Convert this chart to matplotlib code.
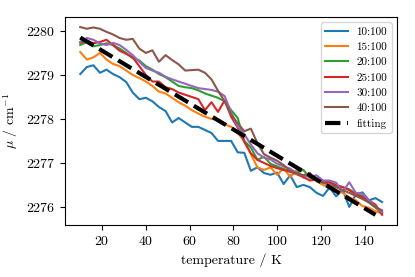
import matplotlib
matplotlib.use('Agg')
import matplotlib.pyplot as plt

plt.rcParams['font.family'] = 'serif'
plt.rcParams['font.serif'] = ['cmr10']
plt.rcParams['mathtext.fontset'] = 'cm'
plt.rcParams['axes.unicode_minus'] = False
plt.rcParams['axes.formatter.use_mathtext'] = True

# temperatura (K)
temperature = [10, 13, 16, 19, 22, 25, 28, 31, 34, 37, 40, 43, 46, 49, 52, 55,
               58, 61, 64, 67, 70, 73, 76, 79, 82, 85, 88, 91, 94, 97, 100, 103,
               106, 109, 112, 115, 118, 121, 124, 127, 130, 133, 136, 139, 142,
               145, 148]

mu_10 = [2279.02, 2279.18, 2279.22, 2279.05, 2279.12, 2279.02, 2278.95, 2278.84,
         2278.60, 2278.45, 2278.48, 2278.40, 2278.27, 2278.18, 2277.92, 2278.02,
         2277.92, 2277.82, 2277.82, 2277.75, 2277.68, 2277.50, 2277.50, 2277.50,
         2277.24, 2277.23, 2276.82, 2276.90, 2276.77, 2276.73, 2276.78, 2276.52,
         2276.72, 2276.45, 2276.50, 2276.45, 2276.32, 2276.25, 2276.44, 2276.24,
         2276.39, 2276.00, 2276.28, 2276.33, 2276.15, 2276.20, 2276.11]
mu_15 = [2279.52, 2279.35, 2279.40, 2279.50, 2279.35, 2279.25, 2279.20, 2279.10,
         2279.00, 2278.93, 2278.85, 2278.75, 2278.62, 2278.58, 2278.48, 2278.38,
         2278.30, 2278.20, 2278.12, 2278.05, 2278.00, 2277.98, 2277.88, 2277.82,
         2277.68, 2277.50, 2277.20, 2276.90, 2276.84, 2276.90, 2276.73, 2276.88,
         2276.68, 2276.84, 2276.66, 2276.75, 2276.58, 2276.50, 2276.44, 2276.38,
         2276.32, 2276.22, 2276.15, 2276.02, 2275.98, 2275.90, 2275.85]
mu_20 = [2279.68, 2279.75, 2279.65, 2279.68, 2279.72, 2279.68, 2279.60, 2279.50,
         2279.38, 2279.33, 2279.20, 2279.12, 2279.02, 2278.95, 2278.85, 2278.75,
         2278.72, 2278.70, 2278.65, 2278.58, 2278.53, 2278.48, 2278.40, 2278.20,
         2278.02, 2277.50, 2277.35, 2277.07, 2277.14, 2276.98, 2276.92, 2276.86,
         2276.80, 2276.78, 2276.84, 2276.66, 2276.60, 2276.55, 2276.57, 2276.48,
         2276.45, 2276.40, 2276.30, 2276.25, 2276.10, 2275.98, 2275.86]
mu_25 = [2279.73, 2279.78, 2279.72, 2279.75, 2279.80, 2279.68, 2279.55, 2279.48,
         2279.40, 2279.20, 2279.00, 2278.85, 2278.85, 2278.72, 2278.68, 2278.60,
         2278.55, 2278.50, 2278.45, 2278.20, 2278.38, 2278.16, 2278.42, 2278.05,
         2277.80, 2277.48, 2277.22, 2277.07, 2277.00, 2276.93, 2276.88, 2276.84,
         2276.80, 2276.74, 2276.68, 2276.60, 2276.62, 2276.58, 2276.55, 2276.50,
         2276.45, 2276.38, 2276.28, 2276.22, 2276.15, 2276.05, 2275.82]
mu_30 = [2279.75, 2279.84, 2279.80, 2279.72, 2279.68, 2279.73, 2279.68, 2279.57,
         2279.45, 2279.30, 2279.16, 2279.10, 2279.05, 2278.96, 2278.90, 2278.85,
         2278.80, 2278.75, 2278.70, 2278.68, 2278.66, 2278.62, 2278.52, 2278.15,
         2277.82, 2277.65, 2277.42, 2277.22, 2277.12, 2277.08, 2276.98, 2276.92,
         2276.87, 2276.76, 2276.72, 2276.68, 2276.72, 2276.60, 2276.60, 2276.55,
         2276.34, 2276.56, 2276.32, 2276.30, 2276.15, 2276.00, 2275.88]
mu_40 = [2280.09, 2280.05, 2280.08, 2280.05, 2279.98, 2279.92, 2279.84, 2279.80,
         2279.82, 2279.60, 2279.50, 2279.56, 2279.30, 2279.45, 2279.34, 2279.24,
         2279.10, 2279.11, 2279.12, 2279.05, 2278.90, 2278.64, 2278.40, 2278.10,
         2277.90, 2277.72, 2277.78, 2277.45, 2277.20, 2277.12, 2277.05, 2276.95,
         2276.82, 2276.76, 2276.72, 2276.77, 2276.60, 2276.55, 2276.50, 2276.45,
         2276.38, 2276.32, 2276.25, 2276.18, 2276.10, 2276.00, 2275.92]

labels = ['10:100', '15:100', '20:100', '25:100', '30:100', '40:100']
series = [mu_10, mu_15, mu_20, mu_25, mu_30, mu_40]

# recta de ajuste
fit_t = [10, 145]
fit_mu = [2279.85, 2275.82]

fig = plt.figure(figsize=(4.15, 2.77), dpi=100)
ax = fig.add_axes([0.157, 0.188, 0.8, 0.751])

for mu, lab in zip(series, labels):
    ax.plot(temperature, mu, lw=1.5, label=lab)
ax.plot(fit_t, fit_mu, 'k--', lw=3, label='fitting')

ax.set_xticks([20, 40, 60, 80, 100, 120, 140])
ax.set_yticks([2276, 2277, 2278, 2279, 2280])
ax.set_ylim(2275.59, 2280.32)
ax.set_xlabel('temperature / K', fontsize=10)
ax.set_ylabel(r'$\mu$ / cm$^{-1}$', fontsize=10)
ax.tick_params(labelsize=10)
ax.legend(loc='upper right', fontsize=8)

fig.savefig('out.png', dpi=100)
